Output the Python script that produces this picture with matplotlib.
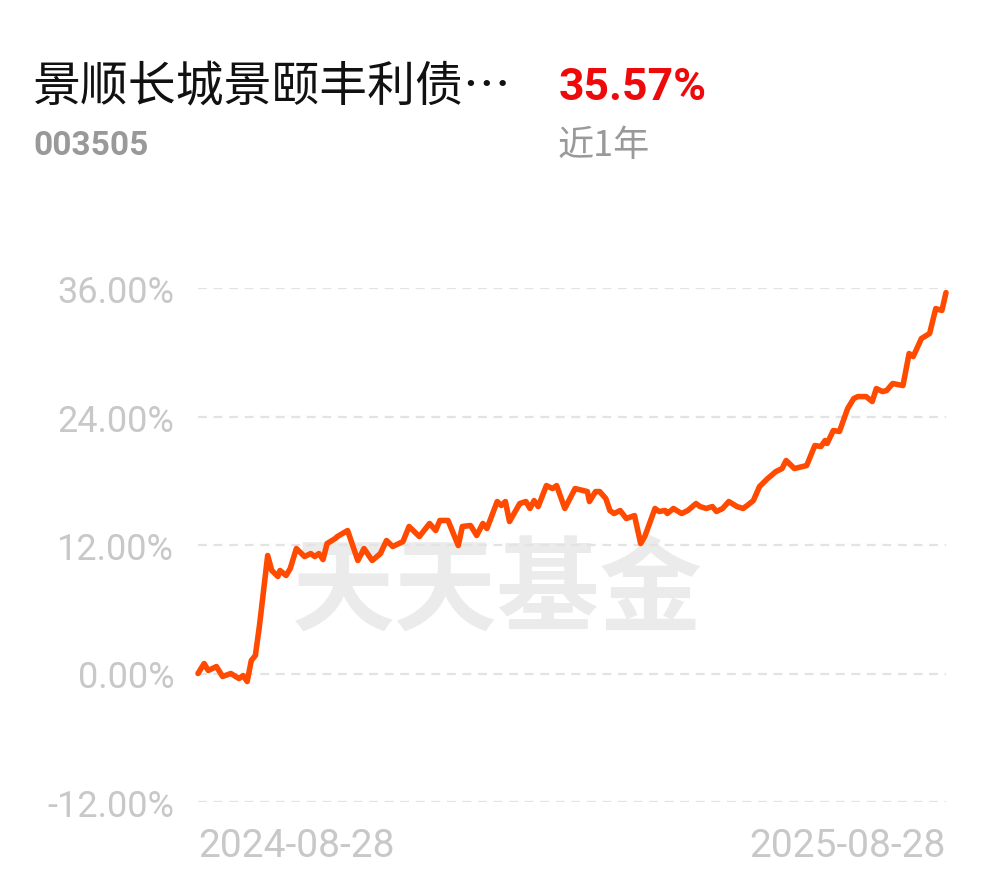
import matplotlib
matplotlib.use("Agg")
import matplotlib.pyplot as plt

# day offset from 2024-08-28 and cumulative return (%)
days = [0, 3, 5, 9, 12, 16, 20, 22, 24, 26, 28, 30, 34, 36, 39, 40, 43, 45, 48, 52,
        55, 57, 59, 61, 63, 67, 68, 73, 78, 81, 85, 89, 92, 95, 100, 103, 108, 113, 116, 118,
        122, 127, 129, 133, 136, 139, 141, 146, 148, 150, 152, 157, 160, 162, 164, 166, 170, 173, 175, 179,
        184, 190, 191, 194, 196, 199, 201, 203, 206, 209, 213, 216, 218, 223, 225, 228, 229, 232, 236, 239,
        243, 245, 248, 251, 253, 256, 259, 263, 266, 268, 271, 274, 278, 282, 285, 287, 291, 297, 301, 304,
        306, 307, 310, 313, 317, 320, 322, 326, 329, 331, 334, 336, 339, 344, 347, 349, 353, 357, 360, 363,
        365]
returns = [0.00, 0.93, 0.28, 0.65, -0.28, 0.00, -0.47, -0.19, -0.75, 1.21, 1.68, 4.48, 11.02, 9.62, 9.06, 9.62, 9.15, 9.80, 11.67, 10.92,
           11.20, 10.92, 11.20, 10.64, 12.14, 12.61, 12.79, 13.35, 10.55, 11.67, 10.55, 11.20, 12.42, 11.86, 12.32, 13.73, 12.79, 14.01, 13.35, 14.29,
           14.29, 11.95, 13.73, 13.82, 12.89, 14.01, 13.54, 16.06, 15.69, 16.06, 14.19, 15.87, 16.06, 15.41, 16.15, 15.59, 17.55, 17.27, 17.55, 15.41,
           17.27, 16.99, 16.06, 16.99, 16.99, 16.34, 15.22, 14.94, 15.22, 14.47, 14.75, 12.14, 12.79, 15.41, 15.13, 15.22, 14.94, 15.41, 14.94, 15.22,
           15.87, 15.59, 15.41, 15.59, 15.13, 15.41, 16.06, 15.59, 15.41, 15.69, 16.15, 17.46, 18.21, 18.86, 19.14, 19.89, 19.14, 19.42, 21.29, 21.20,
           21.76, 21.48, 22.69, 22.60, 24.74, 25.68, 25.86, 25.86, 25.40, 26.61, 26.33, 26.42, 27.08, 26.89, 29.88, 29.60, 31.28, 31.75, 34.08, 33.90,
           35.57]

yticks = [-12, 0, 12, 24, 36]
ytick_labels = ["-12.00%", "0.00%", "12.00%", "24.00%", "36.00%"]
xtick_days = [0, 365]
xtick_labels = ["2024-08-28", "2025-08-28"]

fund_name = "景顺长城景颐丰利债…"
fund_code = "003505"
period_return = "35.57%"
period_label = "近1年"

cjk = ["Noto Sans CJK SC", "DejaVu Sans"]
latin = ["Roboto", "DejaVu Sans"]

fig = plt.figure(figsize=(9.9, 8.78), dpi=100)
ax = fig.add_axes([198 / 990, 75 / 878, 748 / 990, 514 / 878])
ax.patch.set_alpha(0)

# watermark behind the chart
fig.text(497 / 990, 1 - 592 / 878, "天天基金", family=cjk, fontsize=74, fontweight="bold",
         color="#ebebeb", ha="center", va="center", zorder=-5)

ax.plot(days, returns, color="#ff4a00", lw=4.0, solid_joinstyle="round",
        solid_capstyle="round", clip_on=False, zorder=3)

ax.set_xlim(0, 365)
ax.set_ylim(-12, 36)
ax.set_yticks(yticks)
ax.set_yticklabels(ytick_labels)
ax.set_xticks(xtick_days)
ax.set_xticklabels(xtick_labels)
for s in ax.spines.values():
    s.set_visible(False)
ax.tick_params(axis="both", length=0, colors="#c8c8c8")
ax.tick_params(axis="y", pad=17, labelsize=26)
ax.tick_params(axis="x", pad=18, labelsize=28)
for lab in ax.get_yticklabels() + ax.get_xticklabels():
    lab.set_family(latin)
xl = ax.get_xticklabels()
xl[0].set_ha("left")
xl[1].set_ha("right")
ax.yaxis.grid(True, color="#e3e3e3", lw=1.6, linestyle=(0, (4, 3)))
ax.set_axisbelow(True)

# header texts
fig.text(33 / 990, 1 - 88 / 878, fund_name, family=cjk, fontsize=34.5, color="#111111",
         ha="left", va="center")
fig.text(33 / 990, 1 - 146 / 878, fund_code, family=latin, fontsize=24,
         fontweight="bold", color="#999999", ha="left", va="center")
fig.text(559 / 990, 1 - 88 / 878, period_return, family=latin, fontsize=32,
         fontweight="bold", color="#ee0a0a", ha="left", va="center")
fig.text(558 / 990, 1 - 146 / 878, period_label, family=cjk, fontsize=26, color="#999999",
         ha="left", va="center")

fig.savefig("out.png", dpi=100)
